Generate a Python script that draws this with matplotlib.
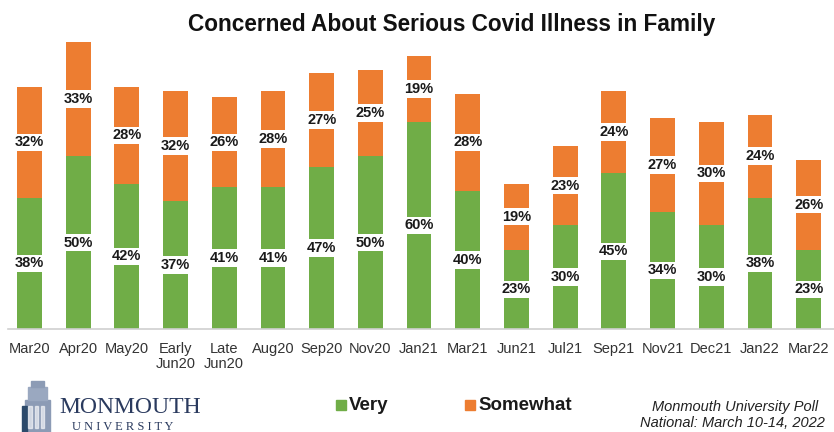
import matplotlib.pyplot as plt
import matplotlib.patches as mpatches

plt.rcParams['font.family'] = ['Liberation Sans', 'DejaVu Sans']

# survey waves and percentages
waves = ['Mar20', 'Apr20', 'May20', 'Early\nJun20', 'Late\nJun20', 'Aug20', 'Sep20',
         'Nov20', 'Jan21', 'Mar21', 'Jun21', 'Jul21', 'Sep21', 'Nov21', 'Dec21',
         'Jan22', 'Mar22']
very = [38, 50, 42, 37, 41, 41, 47, 50, 60, 40, 23, 30, 45, 34, 30, 38, 23]
somewhat = [32, 33, 28, 32, 26, 28, 27, 25, 19, 28, 19, 23, 24, 27, 30, 24, 26]

green = '#70AD47'
orange = '#ED7D31'

fig = plt.figure(figsize=(8.34, 4.32), dpi=100)
ax = fig.add_axes([0.0096, 0.2384, 0.9904, 0.68])

x = list(range(len(waves)))
ax.bar(x, very, width=0.51, color=green, zorder=2)
ax.bar(x, somewhat, width=0.51, bottom=very, color=orange, zorder=2)

box = dict(boxstyle='square,pad=0.12', fc='white', ec='none')
for i in x:
    ax.text(i, very[i] / 2, f'{very[i]}%', ha='center', va='center', fontsize=10.5,
            fontweight='bold', color='#1a1a1a', bbox=box, zorder=3)
    ax.text(i, very[i] + somewhat[i] / 2, f'{somewhat[i]}%', ha='center', va='center',
            fontsize=10.5, fontweight='bold', color='#1a1a1a', bbox=box, zorder=3)

ax.set_xlim(-0.44, 16.52)
ax.set_ylim(0, 85)
ax.set_xticks(x)
ax.set_xticklabels(waves, fontsize=10.5, color='#333333', linespacing=1.15)
ax.tick_params(axis='x', length=0, pad=9)
ax.set_yticks([])
for side in ['top', 'right', 'left']:
    ax.spines[side].set_visible(False)
ax.spines['bottom'].set_color('#d0d0d0')
ax.spines['bottom'].set_linewidth(1.2)

fig.text(0.542, 0.944, 'Concerned About Serious Covid Illness in Family', ha='center',
         va='center', fontsize=16.3, fontweight='bold', color='#111111')

# legend, placed by hand
W, H = 834, 432
for sx, col, lab in [(336, green, 'Very'), (465, orange, 'Somewhat')]:
    fig.patches.append(mpatches.Rectangle((sx / W, 1 - 410 / H), 10 / W, 10 / H,
                                          transform=fig.transFigure, color=col))
    fig.text((sx + 13) / W, 1 - 405 / H, lab, ha='left', va='center', fontsize=13.5,
             fontweight='bold', color='#1a1a1a')

# source note
fig.text(0.981, 1 - 407 / H, 'Monmouth University Poll', ha='right', va='center',
         fontsize=10.5, style='italic', color='#222222')
fig.text(0.989, 1 - 423 / H, 'National: March 10-14, 2022', ha='right', va='center',
         fontsize=10.5, style='italic', color='#222222')

# university mark
navy = '#2a3a5e'
fig.text(0.071, 0.057, 'MONMOUTH', ha='left', va='center', fontsize=17,
         family='Liberation Serif', color=navy)
fig.text(0.086, 0.012, 'U N I V E R S I T Y', ha='left', va='center', fontsize=9,
         family='Liberation Serif', color=navy)
tower = [(0.030, 0.0, 0.030, 0.075, '#8c9bb5'),
         (0.034, 0.075, 0.022, 0.03, '#9aa8c0'),
         (0.037, 0.105, 0.016, 0.012, '#8c9bb5'),
         (0.026, 0.0, 0.006, 0.06, '#2c4a6b')]
for tx, ty, tw, th, tc in tower:
    fig.patches.append(mpatches.Rectangle((tx, ty), tw, th, transform=fig.transFigure,
                                          color=tc, zorder=1))
for k in range(3):
    fig.patches.append(mpatches.Rectangle((0.034 + k * 0.0075, 0.01), 0.004, 0.05,
                                          transform=fig.transFigure, color='#ffffff',
                                          alpha=0.6, zorder=2))

fig.savefig('out.png', dpi=100)
